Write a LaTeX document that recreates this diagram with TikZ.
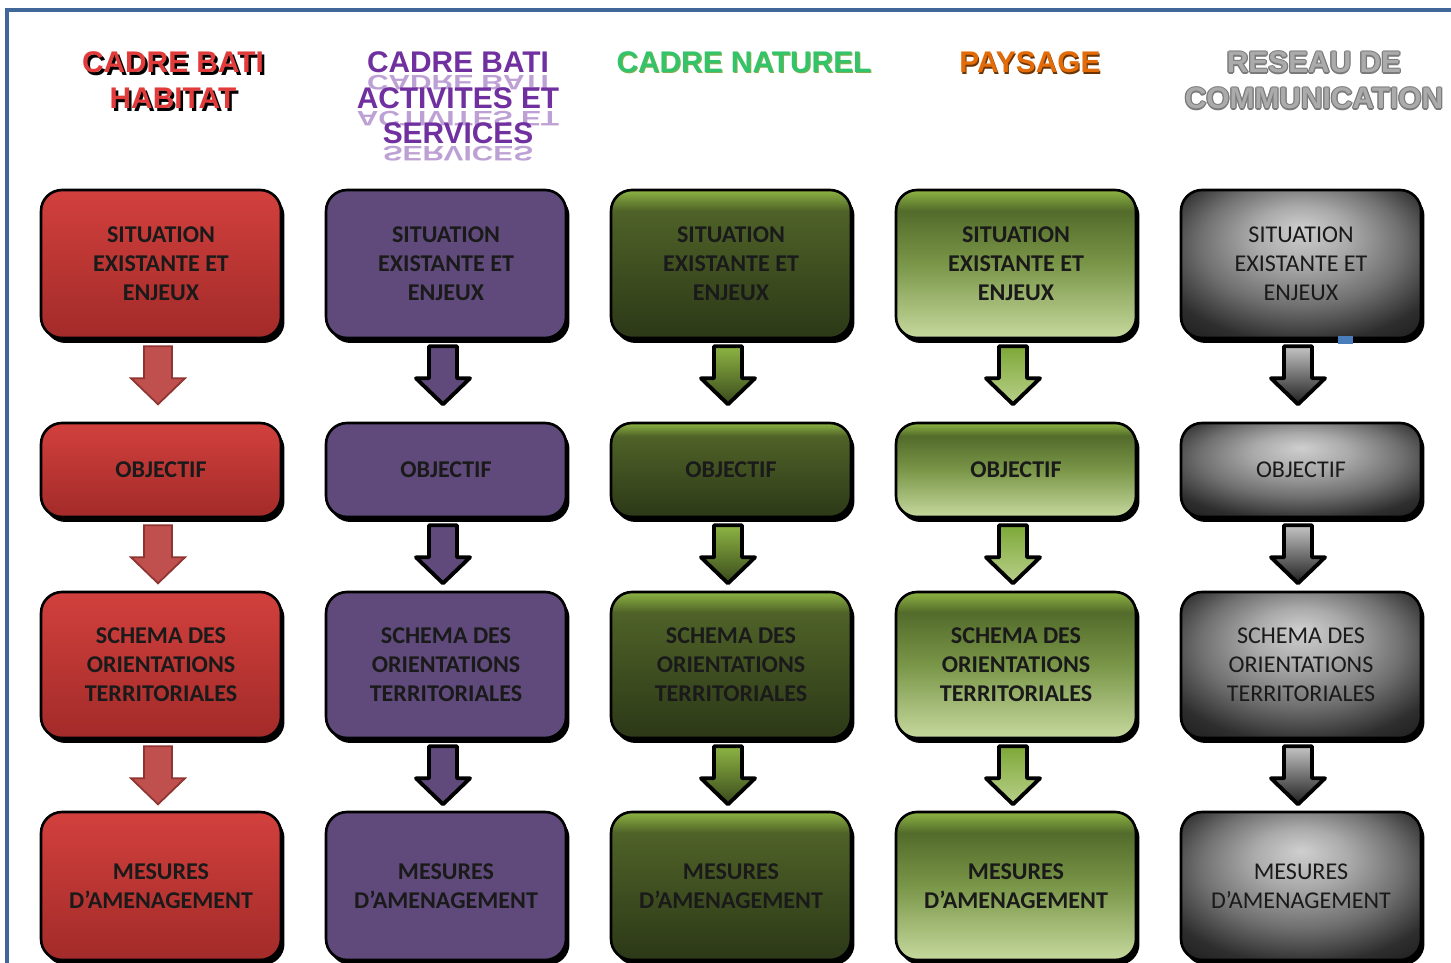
\documentclass[tikz,border=0pt]{standalone}
\usepackage{fontspec}
\newfontfamily\carl{Carlito}
\newfontfamily\lsans{Liberation Sans}
\usetikzlibrary{shadows,calc}
\definecolor{frameblue}{HTML}{41679A}
\definecolor{redT}{HTML}{D2403D}
\definecolor{redB}{HTML}{A22B29}
\definecolor{purp}{HTML}{5F4A7B}
\definecolor{grnTop}{HTML}{8DB443}
\definecolor{olv}{HTML}{4F6228}
\definecolor{olvB}{HTML}{536B2B}
\definecolor{dgB}{HTML}{2C3817}
\definecolor{lgB}{HTML}{C6D99E}
\definecolor{lgMid}{HTML}{7A9648}
\definecolor{arRed}{HTML}{C0504D}
\definecolor{arRedD}{HTML}{8E3431}
\definecolor{dgArB}{HTML}{3A4A1C}
\definecolor{lgArT}{HTML}{7DA838}
\definecolor{lgArB}{HTML}{B9D08A}
\definecolor{grArT}{HTML}{C4C4C4}
\definecolor{grArB}{HTML}{1E1E1E}
\definecolor{txt}{HTML}{1A1A1A}
\definecolor{g1}{HTML}{CFCFCF}
\definecolor{g2}{HTML}{AAAAAA}
\definecolor{g3}{HTML}{707070}
\definecolor{g4}{HTML}{2E2E2E}
\definecolor{hred}{HTML}{E23B3B}
\definecolor{hpurp}{HTML}{7030A0}
\definecolor{hgreen}{HTML}{33C46A}
\definecolor{hgreenD}{HTML}{7FB050}
\definecolor{horange}{HTML}{E36C09}
\definecolor{horangeD}{HTML}{6B3405}
\definecolor{hgrayD}{HTML}{7B7B7B}
\definecolor{hgrayL}{HTML}{ABABAB}
\definecolor{blip}{HTML}{4A7EBB}
\pgfdeclareverticalshading{dgsh}{100bp}{color(0bp)=(dgB); color(25bp)=(dgB); color(68bp)=(olv); color(75bp)=(grnTop); color(100bp)=(grnTop)}
\pgfdeclareverticalshading{lgsh}{100bp}{color(0bp)=(lgB); color(25bp)=(lgB); color(50bp)=(lgMid); color(68bp)=(olvB); color(75bp)=(grnTop); color(100bp)=(grnTop)}
\pgfdeclareradialshading{grsh}{\pgfpoint{0bp}{12bp}}{color(0bp)=(g1); color(10bp)=(g2); color(21bp)=(g3); color(31bp)=(g4); color(50bp)=(black)}
\begin{document}
\begin{tikzpicture}[x=0.02cm,y=-0.02cm,
  bx/.style={rounded corners=0.42cm, draw=black, line width=1.5pt, minimum width=4.8cm,
    align=center, inner sep=2pt, text=txt,
    font=\carl\bfseries\fontsize{13.7pt}{16.5pt}\selectfont,
    drop shadow={shadow xshift=0.07cm, shadow yshift=-0.1cm, fill=black, opacity=1}},
  redbox/.style={bx, top color=redT, bottom color=redB},
  purpbox/.style={bx, fill=purp},
  dgbox/.style={bx, shading=dgsh},
  lgbox/.style={bx, shading=lgsh},
  graybox/.style={bx, shading=grsh, font=\carl\fontsize{13.7pt}{16.5pt}\selectfont},
  redarr/.style={fill=arRed, draw=arRedD, line width=1pt, line join=miter},
  purparr/.style={fill=purp, draw=black, line width=2.2pt, line join=round},
  dgarr/.style={top color=grnTop, bottom color=dgArB, draw=black, line width=2.2pt, line join=round},
  lgarr/.style={top color=lgArT, bottom color=lgArB, draw=black, line width=2.2pt, line join=round},
  grayarr/.style={top color=grArT, bottom color=grArB, draw=black, line width=2.2pt, line join=round},
  blockarr/.style={insert path={++(-14,0) -- ++(28,0) -- ++(0,32) -- ++(13,0) -- ++(-27,26) -- ++(-27,-26) -- ++(13,0) -- cycle}},
  hdr/.style={font=\lsans\bfseries\fontsize{17pt}{20pt}\selectfont, anchor=base, inner sep=0pt}
]
\useasboundingbox (0,0) rectangle (1451,963);
\clip (0,0) rectangle (1451,963);
\fill[white] (0,0) rectangle (1451,963);

% frame
\draw[frameblue, line width=2pt] (1460,10) -- (7,10) -- (7,970);

% headers
\node[hdr, text=black] (h1as) at (175.5,75.5) {CADRE BATI};
\node[hdr, text=black] (h1bs) at (175.5,111.5) {HABITAT};
\node[hdr, text=hred] (h1a) at (173,73) {CADRE BATI};
\node[hdr, text=hred] (h1b) at (173,109) {HABITAT};

\node[hdr, text=hpurp, opacity=0.45, yscale=-0.7] (h2ar) at (458,76) {CADRE BATI};
\node[hdr, text=hpurp, opacity=0.45, yscale=-0.7] (h2br) at (458,112) {ACTIVITES ET};
\node[hdr, text=hpurp, opacity=0.45, yscale=-0.7] (h2cr) at (458,147) {SERVICES};
\node[hdr, text=hpurp] (h2a) at (458,73) {CADRE BATI};
\node[hdr, text=hpurp] (h2b) at (458,109) {ACTIVITES ET};
\node[hdr, text=hpurp] (h2c) at (458,144) {SERVICES};

\node[hdr, text=hgreenD] (h3s) at (745,74) {CADRE NATUREL};
\node[hdr, text=hgreen] (h3) at (744,73) {CADRE NATUREL};

\node[hdr, text=horangeD] (h4s) at (1031,74.5) {PAYSAGE};
\node[hdr, text=horange] (h4) at (1030,73) {PAYSAGE};

\foreach \dx/\dy [count=\k] in {-1.2/0,1.2/0,0/-1.2,0/1.2,-0.9/-0.9,0.9/0.9,-0.9/0.9,0.9/-0.9}{
  \node[hdr, text=hgrayD] (h5a\k) at (1314+\dx,73+\dy) {RESEAU DE};
  \node[hdr, text=hgrayD] (h5b\k) at (1314+\dx,109+\dy) {COMMUNICATION};
}
\node[hdr, text=hgrayL] (h5a) at (1314,73) {RESEAU DE};
\node[hdr, text=hgrayL] (h5b) at (1314,109) {COMMUNICATION};

% columns
\foreach \i/\bst/\ast in {0/redbox/redarr,1/purpbox/purparr,2/dgbox/dgarr,3/lgbox/lgarr,4/graybox/grayarr}{
  \pgfmathsetmacro{\cx}{161+285*\i}
  \node[\bst, minimum height=2.96cm] (s\i) at (\cx,264) {SITUATION\\EXISTANTE ET\\ENJEUX};
  \node[\bst, minimum height=1.88cm] (o\i) at (\cx,470) {OBJECTIF};
  \node[\bst, minimum height=2.92cm] (c\i) at (\cx,665) {SCHEMA DES\\ORIENTATIONS\\TERRITORIALES};
  \node[\bst, minimum height=2.96cm] (m\i) at (\cx,886) {MESURES\\D’AMENAGEMENT};
  \draw[\ast] ($(s\i.south)+(-3,7)$) [blockarr];
  \draw[\ast] ($(o\i.south)+(-3,7)$) [blockarr];
  \draw[\ast] ($(c\i.south)+(-3,7)$) [blockarr];
}

% small blue mark
\fill[blip] (1338,336) rectangle (1353,344);
\end{tikzpicture}
\end{document}
